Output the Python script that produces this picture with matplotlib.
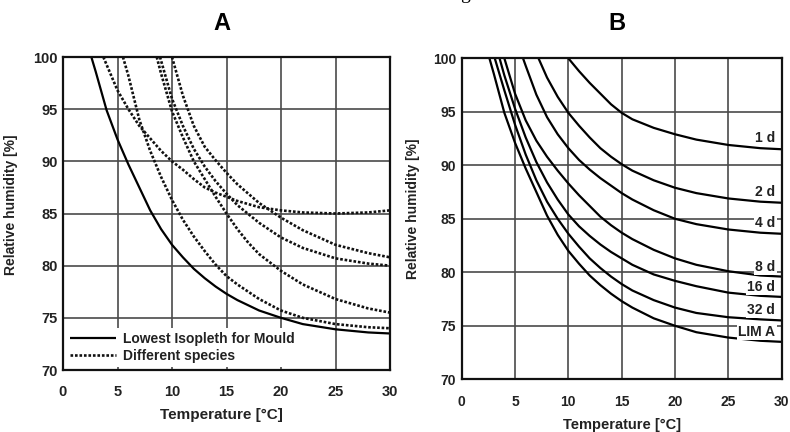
import matplotlib
matplotlib.use("Agg")
import matplotlib.pyplot as plt

plt.rcParams['font.family'] = ['Liberation Sans', 'DejaVu Sans']

# ---------------- Data: panel A ----------------
lim_t = [2.6, 3, 4, 5, 6, 7, 8, 9, 10, 11, 12, 13, 14, 15, 16, 18, 20, 22, 25, 28, 30]
lim_rh = [100, 98.6, 94.9, 92.1, 89.7, 87.5, 85.3, 83.5, 82.0, 80.8, 79.7, 78.8, 78.0, 77.3, 76.7, 75.7, 75.0, 74.4, 73.9, 73.6, 73.5]

sp1_t = [3.7, 5, 6, 7, 8, 9, 10, 11, 12, 13, 14, 15, 16, 18, 20, 22, 25, 28, 30]
sp1_rh = [100, 96.8, 95.0, 93.4, 92.2, 91.0, 90.0, 89.2, 88.3, 87.5, 87.0, 86.6, 86.2, 85.6, 85.3, 85.1, 85.0, 85.1, 85.3]

sp2_t = [5.5, 6, 7, 8, 9, 10, 11, 12, 13, 14, 15, 16, 18, 20, 22, 25, 28, 30]
sp2_rh = [100, 98.2, 94.0, 91.0, 88.5, 86.3, 84.4, 82.8, 81.4, 80.1, 79.0, 78.2, 76.8, 75.7, 75.0, 74.4, 74.1, 74.0]

sp3_t = [8.6, 9, 10, 11, 12, 13, 14, 15, 16, 17, 18, 20, 22, 25, 28, 30]
sp3_rh = [100, 98.4, 94.8, 92.3, 90.0, 88.3, 86.6, 85.0, 83.5, 82.2, 81.1, 79.5, 78.2, 76.8, 75.9, 75.5]

sp4_t = [8.9, 10, 11, 12, 13, 14, 15, 16, 18, 20, 22, 25, 28, 30]
sp4_rh = [100, 96.0, 93.4, 91.2, 89.5, 88.1, 86.9, 85.8, 84.1, 82.7, 81.7, 80.7, 80.2, 80.0]

sp5_t = [10, 11, 12, 13, 14, 15, 16, 18, 20, 22, 25, 28, 30]
sp5_rh = [100, 96.3, 93.4, 91.4, 90.1, 88.9, 87.8, 86.0, 84.6, 83.4, 82.0, 81.2, 80.8]

species = [(sp1_t, sp1_rh), (sp2_t, sp2_rh), (sp3_t, sp3_rh), (sp4_t, sp4_rh), (sp5_t, sp5_rh)]

# ---------------- Data: panel B ----------------
d1_t = [10, 11, 12, 13, 14, 15, 16, 18, 20, 22, 25, 28, 30]
d1_rh = [100, 98.8, 97.7, 96.7, 95.7, 94.9, 94.3, 93.5, 92.9, 92.4, 91.9, 91.6, 91.5]

d2_t = [7.2, 8, 9, 10, 11, 12, 13, 14, 15, 16, 18, 20, 22, 25, 28, 30]
d2_rh = [100, 98.2, 96.4, 94.9, 93.7, 92.6, 91.6, 90.8, 90.1, 89.5, 88.6, 87.9, 87.4, 86.9, 86.6, 86.5]

d4_t = [5.75, 6, 7, 8, 9, 10, 11, 12, 13, 14, 15, 16, 18, 20, 22, 25, 28, 30]
d4_rh = [100, 99.3, 96.6, 94.5, 92.9, 91.6, 90.5, 89.6, 88.8, 88.1, 87.4, 86.8, 85.8, 85.0, 84.5, 84.0, 83.7, 83.6]

d8_t = [4.0, 5, 6, 7, 8, 9, 10, 11, 12, 13, 14, 15, 16, 18, 20, 22, 25, 28, 30]
d8_rh = [100, 96.7, 94.2, 92.3, 90.8, 89.5, 88.3, 87.2, 86.2, 85.2, 84.4, 83.7, 83.1, 82.1, 81.3, 80.7, 80.1, 79.7, 79.6]

d16_t = [3.55, 4, 5, 6, 7, 8, 9, 10, 11, 12, 13, 14, 15, 16, 18, 20, 22, 25, 28, 30]
d16_rh = [100, 98.4, 95.3, 92.6, 90.3, 88.4, 86.8, 85.4, 84.3, 83.4, 82.6, 81.9, 81.3, 80.7, 79.8, 79.2, 78.7, 78.1, 77.8, 77.7]

d32_t = [3.1, 4, 5, 6, 7, 8, 9, 10, 11, 12, 13, 14, 15, 16, 18, 20, 22, 25, 28, 30]
d32_rh = [100, 97.0, 93.8, 91.0, 88.6, 86.6, 85.0, 83.6, 82.4, 81.3, 80.4, 79.6, 78.9, 78.3, 77.4, 76.7, 76.2, 75.8, 75.6, 75.5]

b_curves = [(d1_t, d1_rh), (d2_t, d2_rh), (d4_t, d4_rh), (d8_t, d8_rh),
            (d16_t, d16_rh), (d32_t, d32_rh), (lim_t, lim_rh)]
b_labels = ['1 d', '2 d', '4 d', '8 d', '16 d', '32 d', 'LIM A']
b_label_y = [92.55, 87.5, 84.6, 80.5, 78.65, 76.5, 74.45]

x_ticks = [0, 5, 10, 15, 20, 25, 30]
y_ticks = [70, 75, 80, 85, 90, 95, 100]

W, H = 790, 432
fig = plt.figure(figsize=(W / 100, H / 100), dpi=100)


def px_axes(l, r, t, b):
    return fig.add_axes([l / W, (H - b) / H, (r - l) / W, (b - t) / H])


def style(ax, tick_fs):
    ax.set_xlim(0, 30)
    ax.set_ylim(70, 100)
    ax.set_xticks(x_ticks)
    ax.set_yticks(y_ticks)
    ax.grid(True, color='#4a4a4a', lw=1.2)
    ax.set_axisbelow(True)
    for s in ax.spines.values():
        s.set_linewidth(1.6)
        s.set_color('#111111')
    ax.tick_params(length=0, labelsize=tick_fs, colors='#222222')
    ax.tick_params(axis='x', pad=11)
    ax.tick_params(axis='y', pad=4)
    for lab in ax.get_xticklabels() + ax.get_yticklabels():
        lab.set_fontweight('bold')


# ---------------- Panel A ----------------
axA = px_axes(63, 390, 57, 370)
style(axA, 10.5)
axA.plot(lim_t, lim_rh, color='black', lw=1.6, solid_capstyle='butt',
         label='Lowest Isopleth for Mould')
for i, (t, rh) in enumerate(species):
    axA.plot(t, rh, color='#111111', lw=1.9, linestyle=(0, (1, 0.7)),
             label='Different species' if i == 0 else None)
leg = axA.legend(loc='lower left', bbox_to_anchor=(0.0, 0.0), frameon=True,
                 facecolor='white', edgecolor='none', framealpha=1,
                 handlelength=3.3, handletextpad=0.5, labelspacing=0.2,
                 borderpad=0.3, borderaxespad=0.2, prop={'size': 10, 'weight': 'bold'})
for txt in leg.get_texts():
    txt.set_color('#222222')
axA.set_ylabel('Relative humidity [%]', fontsize=10, fontweight='bold', color='#222222')
axA.yaxis.set_label_coords(-0.138, 0.527)
axA.set_xlabel('Temperature [°C]', fontsize=11, fontweight='bold', color='#222222', va='center')
axA.xaxis.set_label_coords(0.486, -0.144)

# ---------------- Panel B ----------------
axB = px_axes(461.7, 781.7, 58.3, 379.3)
style(axB, 10)
for t, rh in b_curves:
    axB.plot(t, rh, color='black', lw=1.6)
for lab, y in zip(b_labels, b_label_y):
    axB.text(29.4, y, lab, ha='right', va='center', fontsize=10, fontweight='bold',
             color='#222222', zorder=5,
             bbox=dict(facecolor='white', edgecolor='none', pad=1.0))
axB.set_ylabel('Relative humidity [%]', fontsize=10, fontweight='bold', color='#222222')
axB.yaxis.set_label_coords(-0.13, 0.53)
axB.set_xlabel('Temperature [°C]', fontsize=10.5, fontweight='bold', color='#222222', va='center')
axB.xaxis.set_label_coords(0.5, -0.142)

# ---------------- Titles ----------------
fig.text(222 / W, 1 - 23 / H, 'A', ha='center', va='center', fontsize=17, fontweight='bold')
fig.text(617 / W, 1 - 23 / H, 'B', ha='center', va='center', fontsize=17, fontweight='bold')
# cropped caption letter at the very top (only its descender is visible, as in the source)
fig.text(465 / W, 1 + 1 / H, 'g', ha='center', va='baseline', fontsize=14,
         family='Liberation Serif')

fig.savefig('out.png', dpi=100)
